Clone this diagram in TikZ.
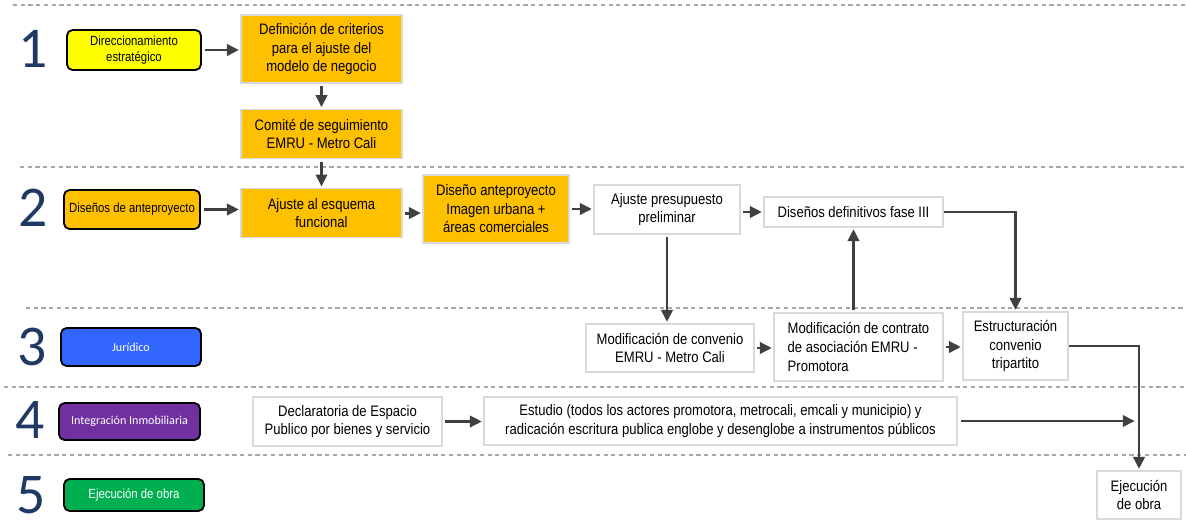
\documentclass[tikz,border=0pt]{standalone}
\usepackage{fontspec}
\setmainfont{Liberation Sans}[FakeStretch=0.86]
\newfontfamily\lanefont{Carlito}
\usetikzlibrary{
    arrows.meta,
    positioning
}
\definecolor{laneyellow}{RGB}{255,255,0}
\definecolor{procorange}{RGB}{255,192,0}
\definecolor{laneblue}{RGB}{51,102,255}
\definecolor{lanepurple}{RGB}{112,48,160}
\definecolor{lanegreen}{RGB}{0,176,80}
\definecolor{navy}{RGB}{31,56,100}
\definecolor{arrgray}{RGB}{64,64,64}
\definecolor{boxgray}{RGB}{217,217,217}
\definecolor{sepgray}{RGB}{166,166,166}
\tikzset{
  lane/.style  = {draw=black, line width=1.3pt, rounded corners=4pt,
                  align=center, inner sep=1pt,
                  font=\fontsize{9.4}{11.5}\selectfont},
  proc/.style  = {draw=boxgray, line width=0.9pt, fill=white, align=center,
                  inner sep=2pt, font=\fontsize{10.8}{13.2}\selectfont},
  oproc/.style = {proc, fill=procorange},
  arr/.style   = {-{Triangle[length=3mm, width=2.8mm]}, line width=2.1pt,
                  draw=arrgray, shorten <=2pt, shorten >=1pt}
}

\begin{document}
\begin{tikzpicture}[x=0.025cm, y=-0.025cm,
        num/.style={font=\lanefont\fontsize{41}{41}\selectfont, text=navy,
                    inner sep=0pt},
        sep/.style={draw=sepgray, line width=0.9pt,
                    dash pattern=on 3pt off 2.5pt}
      ]
      \useasboundingbox (0,0) rectangle (1186,529);
      % lane separators
      \foreach \yy/\xs in {5/13, 167/20, 308/26, 387/4, 455/8}
        \draw[sep] (\xs,\yy) -- (1186,\yy);

      % lane numbers and titles
      \node[num] (n1) at (33,49) {1};
      \node[num] (n2) at (33,208) {2};
      \node[num] (n3) at (32,347) {3};
      \node[num] (n4) at (30,420) {4};
      \node[num] (n5) at (31,495) {5};
      \node[lane, fill=laneyellow, minimum width=3.35cm, minimum height=1cm]
            (c1) at (134,50) {Direccionamiento\\estratégico};
      \node[lane, fill=procorange, minimum width=3.4cm, minimum height=0.975cm]
            (c2) at (132,209.5) {Diseños de anteproyecto};
      \node[lane, fill=laneblue, text=white, font=\lanefont\fontsize{8.6}{10}\selectfont,
            minimum width=3.5cm, minimum height=0.95cm]
            (c3) at (131,347) {Jurídico};
      \node[lane, fill=lanepurple, text=white, font=\lanefont\fontsize{8.6}{10}\selectfont,
            minimum width=3.525cm, minimum height=0.925cm]
            (c4) at (129.5,421.5) {Integración Inmobiliaria};
      \node[lane, fill=lanegreen, text=white, minimum width=3.5cm,
            minimum height=0.8cm] (c5) at (134,495) {Ejecución de obra};

      % lane 1
      \node[oproc, minimum width=4.025cm, minimum height=1.7cm] (def) at (321.5,49)
            {Definición de criterios\\para el ajuste del\\modelo de negocio};
      \node[oproc, minimum width=4.025cm, minimum height=1.225cm,
            below=0.625cm of def] (com) {Comité de seguimiento\\EMRU - Metro Cali};
      % lane 2
      \node[oproc, minimum width=4.025cm, minimum height=1.225cm,
            below=0.725cm of com] (aju) {Ajuste al esquema\\funcional};
      \node[oproc, minimum width=3.65cm, minimum height=1.7cm] (dis) at (496,209)
            {Diseño anteproyecto\\Imagen urbana +\\áreas comerciales};
      \node[proc, minimum width=3.65cm, minimum height=1.225cm] (pre) at (667,209.5)
            {Ajuste presupuesto\\preliminar};
      \node[proc, minimum width=4.475cm, minimum height=0.75cm] (fin) at (853.5,212)
            {Diseños definitivos fase III};
      % lane 3
      \node[proc, minimum width=4.2cm, minimum height=1.2cm] (mcv) at (670,348)
            {Modificación de convenio\\EMRU - Metro Cali};
      \node[proc, align=left, minimum width=4.225cm, minimum height=1.7cm]
            (mct) at (858.5,347)
            {Modificación de contrato\\de asociación EMRU -\\Promotora};
      \node[proc, minimum width=2.625cm, minimum height=1.7cm] (est) at (1015.5,346)
            {Estructuración\\convenio\\tripartito};
      % lane 4
      \node[proc, minimum width=4.725cm, minimum height=1.225cm] (dec) at (347.5,421.5)
            {Declaratoria de Espacio\\Publico por bienes y servicio};
      \node[proc, minimum width=11.825cm, minimum height=1.2cm] (stu) at (720.5,421)
            {Estudio (todos los actores promotora, metrocali, emcali y municipio) y\\
             radicación escritura publica englobe y desenglobe a instrumentos públicos};
      % lane 5
      \node[proc, minimum width=2.1cm, minimum height=1.2cm] (eje) at (1139,495)
            {Ejecución\\de obra};

      \draw[arr] (c1.east) -- (c1.east -| def.west);
      \draw[arr] (def) -- (com);
      \draw[arr] (com) -- (aju);
      \draw[arr] (c2.east) -- (c2.east -| aju.west);
      \draw[arr] (aju.east) -- (aju.east -| dis.west);
      \draw[arr] (dis.east) -- (dis.east -| pre.west);
      \draw[arr] (fin.west -| pre.east) -- (fin.west);
      \draw[arr] (pre.south) -- (pre.south |- mcv.north);
      \draw[arr] (mcv.east) -- (mcv.east -| mct.west);
      \draw[arr] (mct.north -| fin.south) -- (fin.south);
      \draw[arr, shorten <=0pt] (fin.east) -| (est.north);
      \draw[arr] (mct.east) -- (mct.east -| est.west);
      \draw[arr, shorten <=0pt] (est.east) -| (eje.north);
      \draw[arr] (dec.east) -- (dec.east -| stu.west);
      \coordinate (meet) at (eje.north |- stu.east);
      \draw[arr, shorten >=3pt] (stu.east) -- (meet);
    \end{tikzpicture}
\end{document}
